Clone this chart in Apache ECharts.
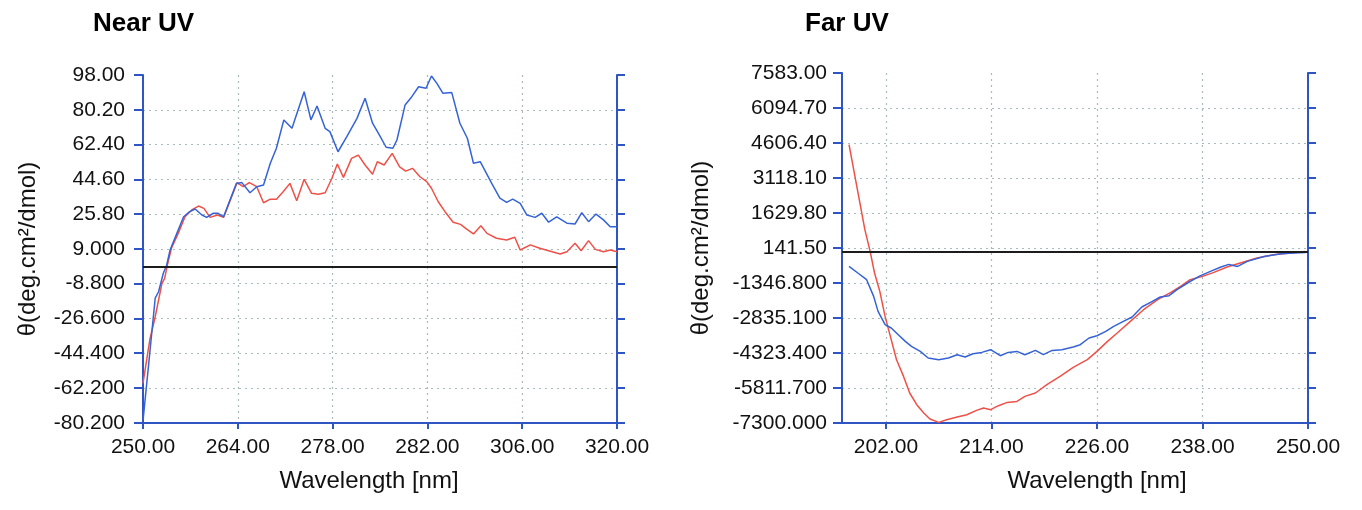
<!DOCTYPE html>
<html>
<head>
<meta charset="utf-8">
<script src="https://cdn.jsdelivr.net/npm/echarts@6/dist/echarts.min.js"></script>
<style>
  html, body { margin: 0; padding: 0; background: #fff; }
  #main { width: 1362px; height: 510px; }
</style>
</head>
<body>
<div id="main"></div>
<script>
// Near UV
var nearXTicks = [250, 264, 278, 292, 306, 320];
var nearXLabels = ['250.00', '264.00', '278.00', '282.00', '306.00', '320.00'];
var nearYTicks = [98, 80.2, 62.4, 44.6, 26.8, 9, -8.8, -26.6, -44.4, -62.2, -80.2];
var nearYLabels = ['98.00', '80.20', '62.40', '44.60', '25.80', '9.000', '-8.800', '-26.600', '-44.400', '-62.200', '-80.200'];

var nearBlueX = [250.0, 250.8, 251.8, 252.3, 253.0, 253.5, 254.0, 255.0, 256.0, 256.9, 257.7, 258.7, 259.4, 260.4, 261.1, 261.9, 263.8, 264.6, 265.8, 266.8, 267.8, 268.8, 269.7, 270.8, 272.0, 272.9, 273.8, 274.8, 275.7, 276.9, 277.6, 278.8, 280.1, 281.6, 282.8, 283.9, 284.9, 285.9, 286.9, 287.5, 288.7, 289.7, 290.7, 291.8, 292.6, 293.4, 294.3, 295.6, 296.8, 297.9, 298.8, 299.8, 301.5, 302.7, 303.7, 304.6, 305.7, 306.7, 307.9, 308.9, 309.9, 311.1, 312.6, 313.8, 314.8, 315.8, 316.9, 318.0, 319.0, 320.0];
var nearBlueY = [-79, -51.4, -16.3, -13.0, -3.5, 0.7, 8.4, 16.9, 25.4, 28.0, 29.4, 26.3, 25.1, 27.2, 27.2, 25.4, 42.5, 42.9, 37.7, 40.8, 41.7, 52.8, 60.5, 75.0, 70.7, 80.1, 89.4, 75.0, 82.1, 70.7, 69.0, 58.7, 66.4, 75.8, 86.1, 73.3, 67.3, 61.0, 60.5, 64.7, 82.6, 86.9, 92.0, 91.2, 97.5, 93.7, 88.6, 89.0, 73.3, 65.6, 52.8, 53.6, 42.5, 34.9, 32.8, 34.4, 32.3, 26.3, 25.1, 27.2, 22.6, 25.4, 22.1, 21.7, 27.5, 22.9, 26.8, 23.8, 20.3, 20.3];

var nearRedX = [250.0, 251.0, 251.8, 252.8, 253.2, 253.6, 254.2, 255.2, 256.2, 257.2, 258.2, 259.0, 259.9, 261.0, 261.9, 263.9, 264.8, 265.7, 266.8, 267.8, 268.8, 269.7, 270.7, 271.7, 272.7, 273.8, 274.9, 275.9, 276.9, 277.9, 278.7, 279.6, 280.8, 281.8, 282.8, 283.9, 284.6, 285.6, 286.8, 287.9, 288.8, 289.8, 290.9, 291.9, 292.6, 293.6, 294.6, 295.8, 296.9, 297.8, 298.8, 299.9, 300.8, 302.2, 303.7, 304.9, 305.7, 307.2, 308.6, 309.9, 311.6, 312.6, 313.8, 314.7, 315.8, 316.8, 318.0, 319.0, 320.0];
var nearRedY = [-59.9, -37.7, -25.8, -8.7, -6.1, 0.7, 9.3, 16.9, 25.4, 28.9, 30.9, 29.7, 25.1, 26.3, 25.1, 42.9, 40.8, 42.9, 40.8, 32.6, 34.4, 34.4, 38.2, 42.5, 33.6, 44.6, 37.4, 36.9, 37.7, 45.1, 52.4, 45.6, 55.3, 57.0, 51.9, 47.2, 53.6, 51.9, 57.9, 51.0, 48.8, 50.2, 45.9, 43.4, 40.0, 33.1, 28.0, 22.6, 21.5, 19.1, 16.6, 20.8, 16.9, 14.4, 13.5, 14.9, 8.4, 11.0, 9.3, 8.0, 6.3, 7.5, 11.8, 8.0, 13.2, 8.7, 7.5, 8.4, 7.5];

// Far UV
var farXTicks = [202, 214, 226, 238, 250];
var farXLabels = ['202.00', '214.00', '226.00', '238.00', '250.00'];
var farYTicks = [7583, 6094.7, 4606.4, 3118.1, 1629.8, 141.5, -1346.8, -2835.1, -4323.4, -5811.7, -7300];
var farYLabels = ['7583.00', '6094.70', '4606.40', '3118.10', '1629.80', '141.50', '-1346.800', '-2835.100', '-4323.400', '-5811.700', '-7300.000'];

var farRedX = [197.8, 199.6, 200.2, 200.7, 201.3, 201.9, 202.5, 203.2, 204.0, 204.7, 205.5, 206.3, 207.0, 208.0, 208.9, 210.1, 211.2, 212.3, 213.1, 213.9, 214.8, 215.8, 216.9, 217.8, 219.0, 220.3, 221.8, 223.3, 224.9, 226.0, 227.2, 228.3, 229.8, 231.3, 232.9, 234.4, 235.5, 236.6, 238.0, 239.3, 240.8, 242.3, 244.2, 246.1, 248.0, 249.7];
var farRedY = [4534, 920, -3, -922, -1704, -2767, -3617, -4608, -5318, -6024, -6521, -6874, -7129, -7274, -7159, -7044, -6947, -6764, -6662, -6734, -6564, -6424, -6381, -6169, -6024, -5671, -5318, -4935, -4608, -4255, -3830, -3473, -2980, -2482, -2057, -1746, -1491, -1206, -1066, -896, -666, -496, -284, -143, -71, -3];

var farBlueX = [197.8, 198.8, 199.8, 200.6, 201.1, 201.9, 202.6, 203.4, 204.2, 204.9, 205.9, 206.8, 208.0, 209.1, 210.1, 211.0, 211.9, 212.9, 213.9, 215.0, 215.9, 216.9, 217.8, 219.0, 219.9, 220.9, 222.0, 223.3, 224.1, 225.1, 226.0, 227.0, 227.9, 229.0, 230.0, 231.1, 232.3, 233.2, 234.2, 235.1, 236.3, 237.6, 238.9, 240.1, 241.0, 242.0, 243.1, 245.0, 246.9, 248.4, 249.7];
var farBlueY = [-641, -922, -1206, -1916, -2554, -3120, -3260, -3545, -3830, -4043, -4255, -4536, -4608, -4536, -4395, -4493, -4353, -4298, -4183, -4438, -4298, -4255, -4395, -4213, -4395, -4213, -4183, -4068, -3970, -3685, -3588, -3405, -3192, -2980, -2792, -2367, -2129, -1942, -1887, -1632, -1347, -1066, -853, -666, -556, -641, -428, -216, -101, -71, -46];

var FONT = 'Liberation Sans, Arial, sans-serif';
var AXIS_BLUE = '#2f55c4';
var GRID_COLOR = '#a9bcbc';

function zip(xs, ys) {
  var out = [];
  for (var i = 0; i < xs.length; i++) out.push([xs[i], ys[i]]);
  return out;
}

function pickLabel(ticks, labels) {
  return function (v) {
    for (var i = 0; i < ticks.length; i++) {
      if (Math.abs(v - ticks[i]) < 1e-6) return labels[i];
    }
    return '';
  };
}

function xAxisCfg(grid, min, max, ticks, labels) {
  return {
    type: 'value', gridIndex: grid, min: min, max: max,
    name: 'Wavelength [nm]', nameLocation: 'middle', nameGap: 46,
    nameTextStyle: { fontFamily: FONT, fontSize: 24, color: '#111', padding: grid === 0 ? [0, 22, 0, 0] : [0, 0, 0, 44] },
    axisLine: { show: true, onZero: false, lineStyle: { color: AXIS_BLUE, width: 2 } },
    axisTick: { show: true, length: 6, inside: false, customValues: ticks, lineStyle: { color: AXIS_BLUE, width: 2 } },
    axisLabel: { customValues: ticks, margin: 14, fontFamily: FONT, fontSize: 21, color: '#111', formatter: pickLabel(ticks, labels) },
    splitLine: { show: true, lineStyle: { color: GRID_COLOR, type: [2, 4], width: 1.2 } }
  };
}

function yAxisCfg(grid, min, max, ticks, labels, gap, margin) {
  return {
    type: 'value', gridIndex: grid, min: min, max: max, position: 'left',
    name: 'θ(deg.cm²/dmol)', nameLocation: 'middle', nameGap: gap,
    nameTextStyle: { fontFamily: FONT, fontSize: 24, color: '#111' },
    axisLine: { show: true, onZero: false, lineStyle: { color: AXIS_BLUE, width: 2 } },
    axisTick: { show: true, length: 9, inside: false, customValues: ticks, lineStyle: { color: AXIS_BLUE, width: 2 } },
    axisLabel: { customValues: ticks, margin: margin, fontFamily: FONT, fontSize: 21, color: '#111', formatter: pickLabel(ticks, labels) },
    splitLine: { show: true, showMaxLine: false, showMinLine: false, lineStyle: { color: GRID_COLOR, type: [2, 4], width: 1.2 } }
  };
}

function rightAxisCfg(grid, min, max, ticks) {
  return {
    type: 'value', gridIndex: grid, min: min, max: max, position: 'right',
    axisLine: { show: true, onZero: false, lineStyle: { color: AXIS_BLUE, width: 2 } },
    axisTick: { show: true, length: 8, inside: false, customValues: ticks, lineStyle: { color: AXIS_BLUE, width: 2 } },
    axisLabel: { show: false },
    splitLine: { show: false }
  };
}

function zeroLine() {
  return {
    silent: true, symbol: 'none', label: { show: false },
    lineStyle: { color: '#1c1c1c', width: 2, type: 'solid' },
    data: [{ yAxis: 0 }]
  };
}

function lineSeries(xi, yi, data, color, z) {
  return {
    type: 'line', xAxisIndex: xi, yAxisIndex: yi, data: data,
    showSymbol: false, symbol: 'none', z: z,
    lineStyle: { color: color, width: 1.5 }
  };
}

var myChart = echarts.init(document.getElementById('main'));

var redSeriesNear = lineSeries(0, 0, zip(nearRedX, nearRedY), '#ee5148', 3);
redSeriesNear.markLine = zeroLine();
var redSeriesFar = lineSeries(1, 2, zip(farRedX, farRedY), '#ee5148', 3);
redSeriesFar.markLine = zeroLine();

myChart.setOption({
  animation: false,
  backgroundColor: '#fff',
  title: [
    { text: 'Near UV', left: 88, top: 6, textStyle: { fontFamily: FONT, fontSize: 26, fontWeight: 'bold', color: '#000' } },
    { text: 'Far UV', left: 800, top: 6, textStyle: { fontFamily: FONT, fontSize: 26, fontWeight: 'bold', color: '#000' } }
  ],
  grid: [
    { left: 143, right: 745, top: 75, bottom: 87 },
    { left: 842, right: 54, top: 73, bottom: 87 }
  ],
  xAxis: [
    xAxisCfg(0, 250, 320, nearXTicks, nearXLabels),
    xAxisCfg(1, 197, 250, farXTicks, farXLabels)
  ],
  yAxis: [
    yAxisCfg(0, -80.2, 98, nearYTicks, nearYLabels, 103, 18),
    rightAxisCfg(0, -80.2, 98, nearYTicks),
    yAxisCfg(1, -7300, 7583, farYTicks, farYLabels, 129, 15),
    rightAxisCfg(1, -7300, 7583, farYTicks)
  ],
  series: [
    redSeriesNear,
    lineSeries(0, 0, zip(nearBlueX, nearBlueY), '#3563d6', 4),
    redSeriesFar,
    lineSeries(1, 2, zip(farBlueX, farBlueY), '#3563d6', 4)
  ]
});
</script>
</body>
</html>
